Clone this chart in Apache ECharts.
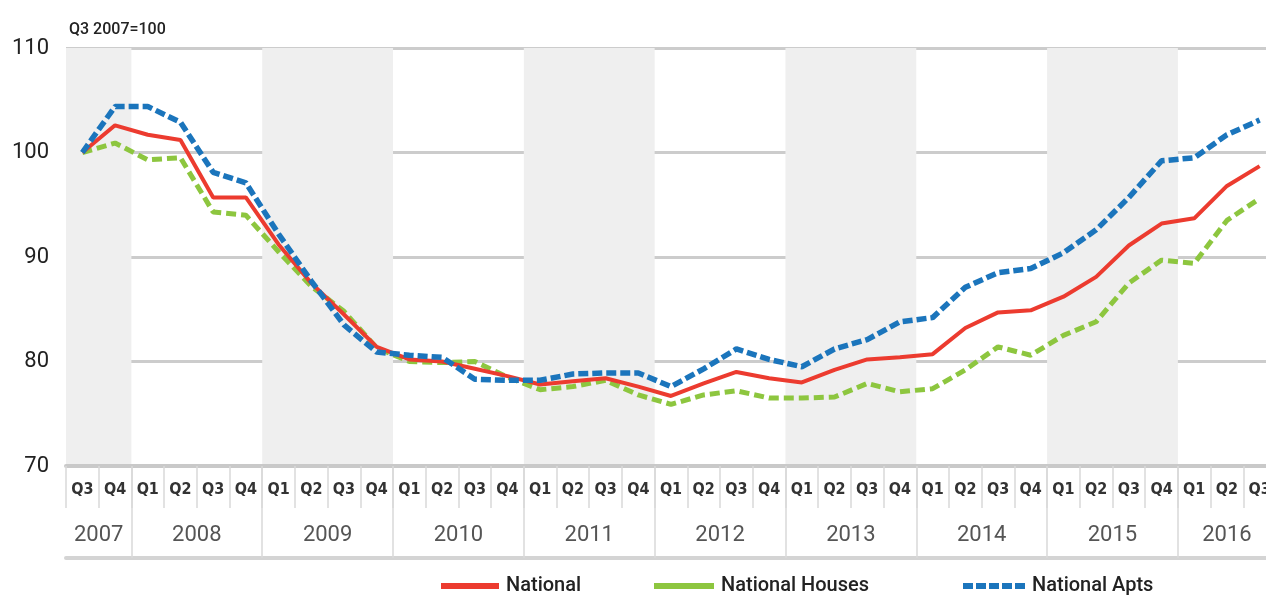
<!DOCTYPE html>
<html>
<head>
<meta charset="utf-8">
<script src="https://cdn.jsdelivr.net/npm/echarts@6/dist/echarts.min.js"></script>
<style>
  html,body{margin:0;padding:0;background:#fff;}
  #main{width:1266px;height:598px;}
</style>
</head>
<body>
<div id="main"></div>
<script>
// quarter labels, Q3 2007 .. Q3 2016
const quarterLabels = ['Q3','Q4',
  'Q1','Q2','Q3','Q4', 'Q1','Q2','Q3','Q4', 'Q1','Q2','Q3','Q4', 'Q1','Q2','Q3','Q4',
  'Q1','Q2','Q3','Q4', 'Q1','Q2','Q3','Q4', 'Q1','Q2','Q3','Q4', 'Q1','Q2','Q3','Q4',
  'Q1','Q2','Q3']
const years = ['2007','2008','2009','2010','2011','2012','2013','2014','2015','2016']
const quartersInYear = [2,4,4,4,4,4,4,4,4,3]

const national = [100, 102.6, 101.7, 101.2, 95.7, 95.7, 91.2, 87.5, 84.5, 81.4,
  80.2, 80.0, 79.3, 78.6, 77.8, 78.1, 78.4, 77.6, 76.7, 77.9,
  79.0, 78.4, 78.0, 79.2, 80.2, 80.4, 80.7, 83.2, 84.7, 84.9,
  86.2, 88.1, 91.1, 93.2, 93.7, 96.8, 98.7]
const houses = [100, 100.9, 99.3, 99.5, 94.3, 94.0, 90.5, 87.2, 84.8, 81.3,
  80.0, 79.9, 80.0, 78.5, 77.3, 77.6, 78.2, 76.8, 75.9, 76.8,
  77.2, 76.5, 76.5, 76.6, 77.9, 77.1, 77.4, 79.2, 81.4, 80.6,
  82.5, 83.8, 87.5, 89.7, 89.4, 93.5, 95.6]
const apts = [100, 104.4, 104.4, 102.9, 98.1, 97.1, 92.2, 87.7, 83.5, 80.9,
  80.6, 80.4, 78.3, 78.2, 78.2, 78.8, 78.9, 78.9, 77.6, 79.3,
  81.2, 80.2, 79.5, 81.2, 82.1, 83.8, 84.2, 87.1, 88.5, 88.9,
  90.4, 92.6, 95.7, 99.2, 99.5, 101.7, 103.1]

// year boundaries / centres in quarter units
let yearStart = [], pos = 0
quartersInYear.forEach(n => { yearStart.push(pos); pos += n })
const yearCenters = yearStart.map((s, i) => s + quartersInYear[i] / 2)
const yearEdges = yearStart.slice(1)
// every other year shaded, starting with 2007
const bands = yearStart.filter((s, i) => i % 2 === 0).map((s, k) => {
  const i = k * 2
  return [{xAxis: s}, {xAxis: s + quartersInYear[i]}]
})

const legendText = {fontFamily: 'Roboto', fontSize: 20, fontWeight: 500, color: '#222', padding: [0, 0, 0, 2]}
const dashIcon = 'path://M0 0h10v6H0z M13 0h10v6H13z M26 0h10v6H26z M39 0h10v6H39z M52 0h10v6H52z'

const myChart = echarts.init(document.getElementById('main'))
const option = {
  animation: false,
  backgroundColor: '#fff',
  title: {
    text: 'Q3 2007=100',
    left: 64, top: 17,
    textStyle: {fontFamily: 'Roboto', fontSize: 16, fontWeight: 500, color: '#222'}
  },
  grid: {left: 66, top: 48, width: 1210, height: 418, containLabel: false, outerBoundsMode: 'none'},
  legend: [
    {data: [{name: 'National', icon: 'rect'}], left: 436, top: 571, itemWidth: 58, itemHeight: 6,
      textStyle: legendText},
    {data: [{name: 'National Houses', icon: 'rect'}], left: 649, top: 571, itemWidth: 60, itemHeight: 6,
      textStyle: legendText},
    {data: [{name: 'National Apts', icon: dashIcon}], left: 958, top: 571, itemWidth: 62, itemHeight: 6,
      textStyle: legendText}
  ],
  xAxis: [
    {
      type: 'category',
      data: quarterLabels,
      boundaryGap: true,
      axisLine: {show: true, lineStyle: {color: '#c9c9c9', width: 4}},
      axisTick: {show: true, interval: 0, length: 42, lineStyle: {color: '#d9d9d9', width: 1.5}},
      axisLabel: {interval: 0, margin: 16, color: '#333', fontSize: 16, fontWeight: 'bold',
        fontFamily: "'Liberation Sans Narrow', 'DejaVu Sans Condensed', sans-serif"},
      splitLine: {show: false},
      z: 3
    },
    {
      type: 'value',
      min: 0, max: quarterLabels.length,
      position: 'bottom',
      offset: 92,
      axisLine: {show: true, onZero: false, lineStyle: {color: '#d4d4d4', width: 4}},
      axisTick: {show: true, inside: true, length: 92, customValues: yearEdges,
        lineStyle: {color: '#d9d9d9', width: 1.5}},
      axisLabel: {show: true, inside: true, margin: 12, customValues: yearCenters,
        formatter: v => years[yearCenters.indexOf(v)] || '',
        color: '#555', fontSize: 22, fontFamily: 'Roboto'},
      splitLine: {show: false}
    }
  ],
  yAxis: {
    type: 'value',
    min: 70, max: 110, interval: 10,
    axisLine: {show: false},
    axisTick: {show: false},
    axisLabel: {margin: 17, color: '#222', fontSize: 22, fontFamily: 'Roboto'},
    splitLine: {show: true, lineStyle: {color: '#cccccc', width: 3}}
  },
  series: [
    {
      name: 'bands', type: 'line', xAxisIndex: 1, data: [], z: -1, silent: true,
      markArea: {silent: true, itemStyle: {color: '#efefef'}, data: bands}
    },
    {
      name: 'National', type: 'line', data: national, showSymbol: false, symbol: 'none', z: 5,
      color: '#ec3b2f',
      lineStyle: {color: '#ec3b2f', width: 4}
    },
    {
      name: 'National Houses', type: 'line', data: houses, showSymbol: false, symbol: 'none', z: 4,
      color: '#8dc63f',
      lineStyle: {color: '#8dc63f', width: 5, type: [10, 5]}
    },
    {
      name: 'National Apts', type: 'line', data: apts, showSymbol: false, symbol: 'none', z: 6,
      color: '#1b75bc',
      lineStyle: {color: '#1b75bc', width: 5.5, type: [10, 4]}
    }
  ]
}
myChart.setOption(option)
</script>
</body>
</html>
